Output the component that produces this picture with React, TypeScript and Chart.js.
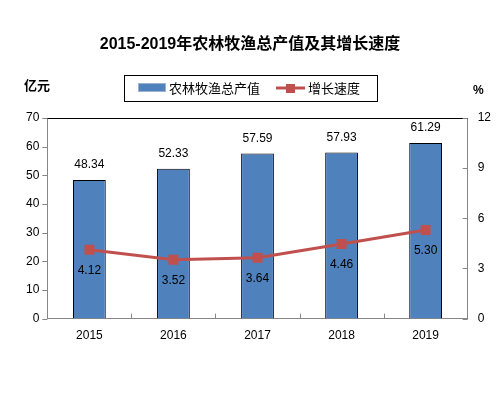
import React, { useEffect, useRef } from "react";
import { Chart, registerables } from "chart.js";

Chart.register(...registerables);

const years = ["2015", "2016", "2017", "2018", "2019"];
const outputValues = [48.34, 52.33, 57.59, 57.93, 61.29];
const growthRates = [4.12, 3.52, 3.64, 4.46, 5.3];
const titleText = "2015-2019年农林牧渔总产值及其增长速度";
const barLabel = "农林牧渔总产值";
const lineLabel = "增长速度";
const leftUnit = "亿元";
const rightUnit = "%";

const BAR_COLOR = "#4F81BD";
const LINE_COLOR = "#C0504D";
const AXIS_COLOR = "#868686";
const FONT = '"Liberation Sans", "Noto Sans CJK SC", sans-serif';

const decorPlugin = {
  id: "decor",
  afterDraw(chart: any) {
    const ctx = chart.ctx;
    const { left, right, top, bottom } = chart.chartArea;
    ctx.save();
    // title
    ctx.fillStyle = "#000";
    ctx.font = `bold 16px ${FONT}`;
    ctx.textAlign = "center";
    ctx.textBaseline = "middle";
    ctx.fillText(titleText, 250, 45);
    // legend
    ctx.strokeStyle = "#000";
    ctx.lineWidth = 1;
    ctx.strokeRect(124.5, 75.5, 253, 26);
    ctx.fillStyle = BAR_COLOR;
    ctx.fillRect(138, 83, 28, 9);
    ctx.strokeStyle = "#9fb3cf";
    ctx.strokeRect(138.5, 83.5, 27, 8);
    ctx.strokeStyle = LINE_COLOR;
    ctx.lineWidth = 3;
    ctx.beginPath();
    ctx.moveTo(276, 88);
    ctx.lineTo(305, 88);
    ctx.stroke();
    ctx.fillStyle = LINE_COLOR;
    ctx.fillRect(286, 84, 9, 9);
    ctx.fillStyle = "#000";
    ctx.font = `13px ${FONT}`;
    ctx.textAlign = "left";
    ctx.fillText(barLabel, 169, 89);
    ctx.fillText(lineLabel, 308, 89);
    // units
    ctx.font = `bold 13px ${FONT}`;
    ctx.fillText(leftUnit, 24, 86);
    ctx.font = `bold 12px ${FONT}`;
    ctx.fillText(rightUnit, 473, 91);
    // top border
    ctx.strokeStyle = "#000";
    ctx.lineWidth = 1;
    ctx.beginPath();
    ctx.moveTo(left, Math.round(top) + 0.5);
    ctx.lineTo(right, Math.round(top) + 0.5);
    ctx.stroke();
    // ticks
    ctx.strokeStyle = AXIS_COLOR;
    const yS = chart.scales.y;
    const y1S = chart.scales.y1;
    const xS = chart.scales.x;
    ctx.beginPath();
    yS.ticks.forEach((t: any) => {
      const py = Math.round(yS.getPixelForValue(t.value)) + 0.5;
      ctx.moveTo(left - 5, py);
      ctx.lineTo(left, py);
    });
    y1S.ticks.forEach((t: any) => {
      const py = Math.round(y1S.getPixelForValue(t.value)) + 0.5;
      ctx.moveTo(right - 5, py);
      ctx.lineTo(right, py);
    });
    const n = years.length;
    for (let i = 1; i < n; i++) {
      const px = Math.round((xS.getPixelForValue(i - 1) + xS.getPixelForValue(i)) / 2) + 0.5;
      ctx.moveTo(px, bottom);
      ctx.lineTo(px, bottom - 5);
    }
    ctx.stroke();
    // data labels
    ctx.fillStyle = "#000";
    ctx.font = `12px ${FONT}`;
    ctx.textAlign = "center";
    ctx.textBaseline = "middle";
    const barMeta = chart.getDatasetMeta(0);
    barMeta.data.forEach((el: any, i: number) => {
      ctx.fillText(outputValues[i].toFixed(2), el.x, el.y - 15);
    });
    const lineMeta = chart.getDatasetMeta(1);
    lineMeta.data.forEach((el: any, i: number) => {
      ctx.fillText(growthRates[i].toFixed(2), el.x, el.y + 21);
    });
    ctx.restore();
  },
};

export default function App() {
  const ref = useRef<HTMLCanvasElement>(null);
  useEffect(() => {
    document.body.style.margin = "0";
    const chart = new Chart(ref.current!, {
      type: "bar",
      data: {
        labels: years,
        datasets: [
          {
            type: "bar",
            label: barLabel,
            data: outputValues,
            backgroundColor: BAR_COLOR,
            borderColor: "#000",
            borderWidth: 1,
            categoryPercentage: 1,
            barPercentage: 0.39,
            yAxisID: "y",
            order: 2,
          },
          {
            type: "line",
            label: lineLabel,
            data: growthRates,
            borderColor: LINE_COLOR,
            backgroundColor: LINE_COLOR,
            borderWidth: 3,
            pointStyle: "rect",
            pointRadius: 7,
            pointBorderWidth: 0,
            yAxisID: "y1",
            order: 1,
          } as any,
        ],
      },
      options: {
        responsive: false,
        animation: false,
        layout: { padding: { top: 118, left: 18, right: 1, bottom: 43 } },
        plugins: {
          legend: { display: false },
          title: { display: false },
          tooltip: { enabled: false },
        },
        scales: {
          x: {
            offset: true,
            grid: { display: false, drawTicks: false },
            border: { display: true, color: AXIS_COLOR },
            ticks: { color: "#000", font: { family: FONT, size: 12 }, padding: 10 },
          },
          y: {
            position: "left",
            min: 0,
            max: 70,
            ticks: { stepSize: 10, color: "#000", font: { family: FONT, size: 12 }, padding: 8 },
            grid: { display: false, drawTicks: false },
            border: { display: true, color: AXIS_COLOR },
          },
          y1: {
            position: "right",
            min: 0,
            max: 12,
            ticks: { stepSize: 3, color: "#000", font: { family: FONT, size: 12 }, padding: 10 },
            grid: { display: false, drawTicks: false },
            border: { display: true, color: AXIS_COLOR },
          },
        },
      },
      plugins: [decorPlugin],
    });
    return () => chart.destroy();
  }, []);
  return (
    <div style={{ width: 502, height: 396 }}>
      <canvas ref={ref} width={502} height={396} />
    </div>
  );
}
